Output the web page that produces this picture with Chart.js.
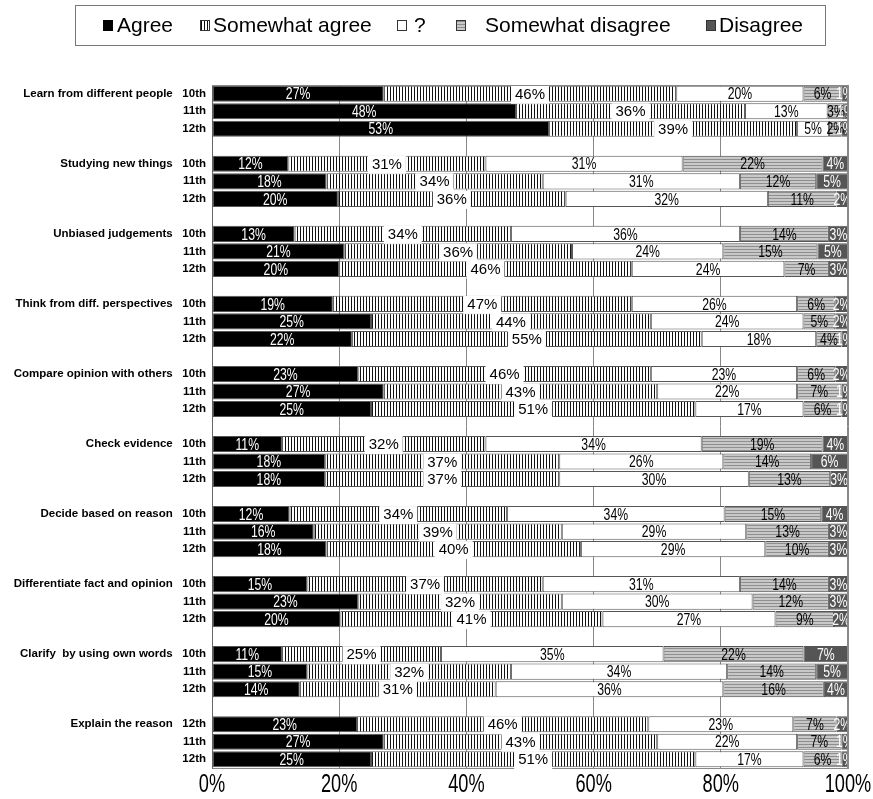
<!DOCTYPE html>
<html>
<head>
<meta charset="utf-8">
<script src="https://cdn.jsdelivr.net/npm/chart.js@4/dist/chart.umd.min.js"></script>
<style>
  html, body { margin: 0; padding: 0; background: #fff; }
  #wrap { position: relative; width: 873px; height: 799px; }
</style>
</head>
<body>
<div id="wrap"><canvas id="c"></canvas></div>
<script>
// ---- data ----
const groups = [
  "Learn from different people",
  "Studying new things",
  "Unbiased judgements",
  "Think from diff. perspectives",
  "Compare opinion with others",
  "Check evidence",
  "Decide based on reason",
  "Differentiate fact and opinion",
  "Clarify  by using own words",
  "Explain the reason"
];
const gradeLabels = [
  "10th","11th","12th", "10th","11th","12th", "10th","11th","12th", "10th","11th","12th",
  "10th","11th","12th", "10th","11th","12th", "10th","11th","12th", "10th","11th","12th",
  "10th","11th","12th", "12th","11th","12th"
];
const seriesNames = ["Agree", "Somewhat agree", "?", "Somewhat disagree", "Disagree"];
const agree = [27,47.8,53, 12,18,19.8, 13,20.8,20, 19,25,22, 23,27,25, 11,17.8,17.8, 12.2,16,18, 15,23,20.2, 11,15,13.8, 22.8,27,25];
const somewhatAgree = [46,36,39, 31,34,35.8, 34,35.8,46, 47,44,55, 46,43,51, 32,36.8,36.8, 34.2,39,40, 37,32,41.2, 25,32,30.8, 45.8,43,51];
const unsure = [20,13,5, 31,31,31.8, 36,23.8,24, 26,24,18, 23,22,17, 34,25.8,29.8, 34.2,29,29, 31,30,27.2, 35,34,35.8, 22.8,22,17];
const somewhatDisagree = [6,2.6,2, 22,12,10.8, 14,14.8,7, 6,5,4, 6,7,6, 19,13.8,12.8, 15.2,13,10, 14,12,9.2, 22,14,15.8, 6.8,7,6];
const disagree = [1,0.6,1, 4,5,1.8, 3,4.8,3, 2,2,1, 2,1,1, 4,5.8,2.8, 4.2,3,3, 3,3,2.2, 7,5,3.8, 1.8,1,1];
const xTicks = [0, 20, 40, 60, 80, 100];

// ---- build category rows (blank row between groups) ----
const labels = [];
const rowIndex = [];
groups.forEach((g, gi) => {
  for (let k = 0; k < 3; k++) {
    const i = gi * 3 + k;
    labels.push(k === 0 ? g + "   " + gradeLabels[i] : gradeLabels[i]);
    rowIndex.push(i);
  }
  if (gi < groups.length - 1) { labels.push(""); rowIndex.push(-1); }
});
const expand = arr => rowIndex.map(i => i < 0 ? null : arr[i]);

// ---- patterns ----
function makePattern(w, h, draw) {
  const c = document.createElement('canvas');
  c.width = w; c.height = h;
  const x = c.getContext('2d');
  draw(x);
  return x.createPattern(c, 'repeat');
}
const vStripe = makePattern(3, 3, x => {
  x.fillStyle = '#fff'; x.fillRect(0, 0, 3, 3);
  x.fillStyle = '#111'; x.fillRect(0, 0, 1, 3);
});
const hStripe = makePattern(3, 3, x => {
  x.fillStyle = '#c8c8c8'; x.fillRect(0, 0, 3, 3);
  x.fillStyle = '#8e8e8e'; x.fillRect(0, 0, 3, 1);
});
const fills = ['#000000', vStripe, '#ffffff', hStripe, '#555555'];
const labelColors = ['#ffffff', '#000000', '#000000', '#000000', '#ffffff'];
const seriesData = [agree, somewhatAgree, unsure, somewhatDisagree, disagree];

const datasets = seriesData.map((arr, si) => ({
  label: seriesNames[si],
  data: expand(arr),
  backgroundColor: fills[si],
  borderColor: '#555555',
  borderWidth: 1,
  borderSkipped: false,
  categoryPercentage: 0.92,
  barPercentage: 1.0
}));

const sans = '"Liberation Sans", Arial, sans-serif';

function narrowText(ctx, txt, x, y, sx) {
  ctx.save();
  ctx.translate(x, y);
  ctx.scale(sx, 1);
  ctx.fillText(txt, 0, 0);
  ctx.restore();
}

// ---- value labels plugin ----
const valueLabels = {
  id: 'valueLabels',
  afterDatasetsDraw(chart) {
    const ctx = chart.ctx;
    const a = chart.chartArea;
    ctx.save();
    ctx.beginPath();
    ctx.rect(a.left, a.top - 10, a.right - a.left, a.bottom - a.top + 20);
    ctx.clip();
    ctx.textAlign = 'center';
    ctx.textBaseline = 'middle';
    chart.data.datasets.forEach((ds, si) => {
      const meta = chart.getDatasetMeta(si);
      meta.data.forEach((bar, i) => {
        const v = ds.data[i];
        if (v === null || v === undefined) return;
        const p = bar.getProps(['x', 'y', 'base'], true);
        const cx = (p.x + p.base) / 2;
        const cy = p.y + 1;
        const txt = Math.round(v) + '%';
        if (si === 1) {
          ctx.font = '15px ' + sans;
          const w = ctx.measureText(txt).width;
          ctx.fillStyle = '#ffffff';
          ctx.fillRect(cx - w / 2 - 4, cy - 9, w + 8, 18);
          ctx.fillStyle = '#000000';
          ctx.fillText(txt, cx, cy);
        } else {
          ctx.font = '17px ' + sans;
          ctx.fillStyle = labelColors[si];
          narrowText(ctx, txt, cx, cy, 0.72);
        }
      });
    });
    ctx.restore();
  }
};

// ---- frame, x tick labels, legend plugin ----
const frameLegend = {
  id: 'frameLegend',
  afterDraw(chart) {
    const ctx = chart.ctx;
    const a = chart.chartArea;
    const xs = chart.scales.x;
    ctx.save();
    ctx.strokeStyle = '#888888';
    ctx.lineWidth = 1;
    ctx.beginPath();
    ctx.moveTo(a.left, a.top + 0.5); ctx.lineTo(a.right, a.top + 0.5);
    ctx.moveTo(a.right - 0.5, a.top); ctx.lineTo(a.right - 0.5, a.bottom);
    ctx.stroke();
    ctx.font = '26px ' + sans;
    ctx.fillStyle = '#000';
    ctx.textAlign = 'center';
    ctx.textBaseline = 'middle';
    xTicks.forEach(v => narrowText(ctx, v + '%', xs.getPixelForValue(v), 785, 0.7));
    ctx.strokeStyle = '#777777';
    ctx.strokeRect(75.5, 5.5, 750, 40);
    const items = [
      { bx: 103, tx: 117 },
      { bx: 200, tx: 213 },
      { bx: 397, tx: 414 },
      { bx: 456, tx: 485 },
      { bx: 706, tx: 719 }
    ];
    ctx.font = '21px ' + sans;
    ctx.textBaseline = 'middle';
    ctx.textAlign = 'left';
    items.forEach((it, si) => {
      ctx.fillStyle = fills[si];
      ctx.fillRect(it.bx, 20, 10, 11);
      ctx.strokeStyle = si === 0 ? '#000' : '#333';
      ctx.strokeRect(it.bx + 0.5, 20.5, 9, 10);
      ctx.fillStyle = '#000';
      ctx.fillText(seriesNames[si], it.tx, 26);
    });
    ctx.restore();
  }
};

new Chart(document.getElementById('c'), {
  type: 'bar',
  data: { labels, datasets },
  options: {
    indexAxis: 'y',
    responsive: true,
    maintainAspectRatio: false,
    animation: false,
    layout: { padding: { top: 85, right: 25, left: 0, bottom: 0 } },
    plugins: {
      legend: { display: false },
      tooltip: { enabled: false }
    },
    scales: {
      x: {
        stacked: true,
        min: 0, max: 100,
        afterBuildTicks: axis => { axis.ticks = xTicks.map(v => ({ value: v })); },
        ticks: { display: false },
        grid: { color: '#888888', drawTicks: false, lineWidth: 1 },
        border: { display: true, color: '#888888' },
        afterFit: axis => { axis.height = 31; axis.paddingLeft = 0; axis.paddingRight = 0; }
      },
      y: {
        stacked: true,
        ticks: {
          autoSkip: false,
          color: '#000',
          font: { family: sans, size: 11.5, weight: 'bold' },
          padding: 6
        },
        grid: { display: false, drawTicks: false },
        border: { display: true, color: '#666666' },
        afterFit: axis => { axis.width = 212; }
      }
    }
  },
  plugins: [valueLabels, frameLegend]
});
</script>
</body>
</html>
